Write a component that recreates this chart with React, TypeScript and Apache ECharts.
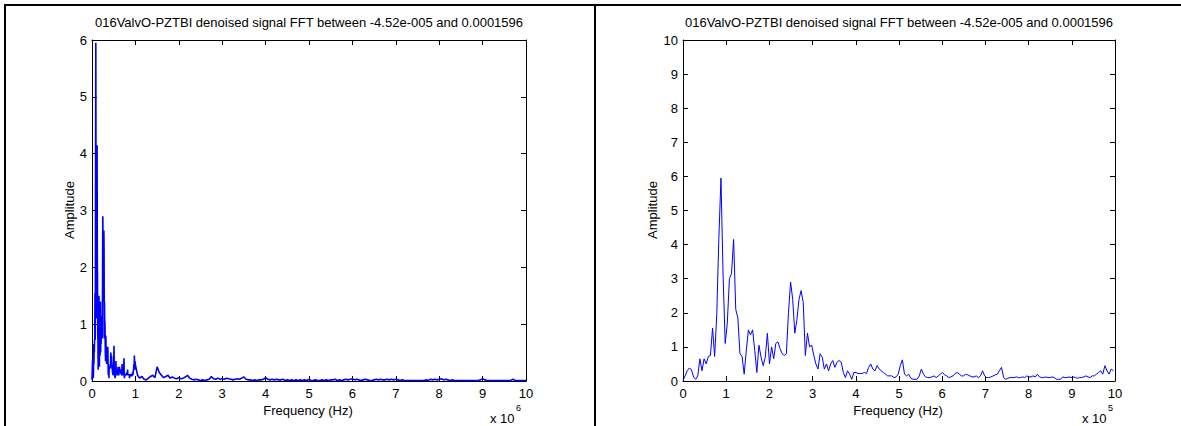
import React, { useEffect, useRef } from "react";
import * as echarts from "echarts";

// FFT bin spacing (20 MHz sampling, 4096 points)
const BIN_HZ = 4882.8125;

// Amplitudes of the first 205 bins (0 .. ~1 MHz), shared by both plots
const lowAmp = [
  0.02, 0.15, 0.3, 0.38, 0.33, 0.12, 0.05, 0.15, 0.65, 0.3,
  0.65, 0.5, 0.72, 0.75, 1.55, 0.72, 1.95, 4.2, 5.95, 3.1,
  1.1, 1.7, 3.0, 3.15, 4.15, 2.1, 1.85, 0.8, 0.72, 0.2,
  0.9, 1.5, 1.35, 1.5, 0.9, 0.25, 1.05, 0.7, 0.45, 0.7,
  1.4, 0.5, 1.0, 0.65, 1.1, 1.15, 0.95, 0.8, 0.75, 0.8,
  2.0, 2.9, 2.4, 1.4, 1.8, 2.4, 2.65, 2.3, 0.75, 1.4,
  1.0, 1.05, 0.75, 0.5, 0.35, 0.8, 0.7, 0.35, 0.5, 0.3,
  0.5, 0.6, 0.4, 0.55, 0.6, 0.55, 0.25, 0.1, 0.3, 0.2,
  0.05, 0.25, 0.25, 0.22, 0.22, 0.22, 0.25, 0.22, 0.4, 0.5,
  0.35, 0.3, 0.45, 0.35, 0.3, 0.25, 0.2, 0.15, 0.15, 0.15,
  0.1, 0.12, 0.2, 0.45, 0.62, 0.2, 0.15, 0.2, 0.08, 0.05,
  0.05, 0.05, 0.15, 0.35, 0.2, 0.12, 0.1, 0.1, 0.12, 0.15,
  0.1, 0.15, 0.2, 0.25, 0.18, 0.15, 0.1, 0.12, 0.15, 0.22,
  0.25, 0.2, 0.15, 0.15, 0.2, 0.18, 0.15, 0.12, 0.12, 0.15,
  0.1, 0.15, 0.3, 0.15, 0.1, 0.1, 0.12, 0.15, 0.18, 0.2,
  0.3, 0.4, 0.1, 0.05, 0.08, 0.1, 0.1, 0.1, 0.12, 0.1,
  0.1, 0.12, 0.1, 0.15, 0.12, 0.12, 0.15, 0.12, 0.2, 0.12,
  0.1, 0.1, 0.12, 0.1, 0.1, 0.12, 0.1, 0.05, 0.05, 0.05,
  0.12, 0.1, 0.1, 0.12, 0.1, 0.12, 0.1, 0.08, 0.1, 0.1,
  0.12, 0.15, 0.12, 0.1, 0.15, 0.15, 0.2, 0.25, 0.3, 0.2,
  0.45, 0.3, 0.2, 0.35, 0.3,
];

// Tail of the spectrum, 1.05 MHz .. 10 MHz, read at 50 kHz steps
const TAIL_START_HZ = 1.05e6;
const TAIL_STEP_HZ = 5e4;
const tailAmp = [
  0.1, 0.05, 0.08, 0.03, 0.02, 0.05, 0.08, 0.1, 0.06, 0.25, 0.15, 0.1, 0.06, 0.08, 0.1, 0.05, 0.07, 0.05, 0.04, 0.06,
  0.04, 0.05, 0.07, 0.1, 0.05, 0.03, 0.02, 0.03, 0.02, 0.01, 0.02, 0.01, 0.02, 0.03, 0.08, 0.04, 0.03, 0.05, 0.03, 0.04,
  0.03, 0.05, 0.04, 0.03, 0.02, 0.03, 0.04, 0.03, 0.05, 0.07, 0.03, 0.02, 0.02, 0.01, 0.02, 0.01, 0.02, 0.02, 0.03, 0.06,
  0.03, 0.02, 0.03, 0.02, 0.03, 0.02, 0.02, 0.03, 0.01, 0.02, 0.01, 0.02, 0.01, 0.02, 0.01, 0.02, 0.01, 0.02, 0.01, 0.03,
  0.01, 0.01, 0.02, 0.01, 0.01, 0.02, 0.01, 0.02, 0.01, 0.02, 0.02, 0.03, 0.01, 0.02, 0.01, 0.02, 0.03, 0.02, 0.03, 0.04,
  0.02, 0.03, 0.02, 0.01, 0.02, 0.03, 0.02, 0.01, 0.01, 0.02, 0.03, 0.02, 0.03, 0.02, 0.02, 0.03, 0.02, 0.03, 0.02, 0.03,
  0.02, 0.01, 0.02, 0.01, 0.01, 0.01, 0.01, 0.01, 0.01, 0.01, 0.01, 0.01, 0.01, 0.02, 0.01, 0.03, 0.02, 0.03, 0.02, 0.03,
  0.04, 0.02, 0.03, 0.02, 0.01, 0.02, 0.01, 0.01, 0.01, 0.01, 0.01, 0.01, 0.01, 0.01, 0.01, 0.01, 0.01, 0.01, 0.02, 0.04,
  0.02, 0.01, 0.01, 0.01, 0.01, 0.01, 0.01, 0.01, 0.01, 0.01, 0.01, 0.01, 0.01, 0.03, 0.01, 0.01, 0.01, 0.01, 0.01, 0.01,
];

const TITLE = "016ValvO-PZTBI denoised signal FFT between -4.52e-005 and 0.0001596";
const X_NAME = "Frequency (Hz)";
const Y_NAME = "Amplitude";
const LEFT_EXP = "6";
const RIGHT_EXP = "5";
const LEFT_YMAX = 6;
const RIGHT_YMAX = 10;
const X_MAX = 10;

const FONT = "'Liberation Sans', Arial, Helvetica, sans-serif";

export default function App() {
  const ref = useRef<HTMLDivElement>(null);

  useEffect(() => {
    if (!ref.current) return;
    const chart = echarts.init(ref.current, null, { renderer: "svg" });

    const lowPoints = lowAmp.map((v, k) => [k * BIN_HZ, v]);
    const tailPoints = tailAmp.map((v, i) => [TAIL_START_HZ + i * TAIL_STEP_HZ, v]);
    const leftData = [...lowPoints, ...tailPoints].map(([f, v]) => [f / 1e6, v]);
    const rightData = lowPoints.map(([f, v]) => [f / 1e5, v]);

    const grids = [
      { left: 92, top: 40, width: 434, height: 341 },
      { left: 683, top: 40, width: 432, height: 341 },
    ];

    const axisLine = { show: true, onZero: false, lineStyle: { color: "#000", width: 1 } };
    const tick = { show: true, inside: true, length: 5, lineStyle: { color: "#000", width: 1 } };
    const label = { color: "#000", fontSize: 13, fontFamily: FONT };

    const xAxes: any[] = [];
    const yAxes: any[] = [];
    [0, 1].forEach((g) => {
      xAxes.push({
        type: "value", gridIndex: g, position: "bottom", min: 0, max: X_MAX, interval: 1,
        axisLine, axisTick: tick, splitLine: { show: false },
        axisLabel: { ...label, margin: 6 },
      });
      xAxes.push({
        type: "value", gridIndex: g, position: "top", min: 0, max: X_MAX, interval: 1,
        axisLine, axisTick: tick, splitLine: { show: false }, axisLabel: { show: false },
      });
      const ymax = g === 0 ? LEFT_YMAX : RIGHT_YMAX;
      yAxes.push({
        type: "value", gridIndex: g, position: "left", min: 0, max: ymax, interval: 1,
        axisLine, axisTick: tick, splitLine: { show: false },
        axisLabel: { ...label, margin: 5 },
      });
      yAxes.push({
        type: "value", gridIndex: g, position: "right", min: 0, max: ymax, interval: 1,
        axisLine, axisTick: tick, splitLine: { show: false }, axisLabel: { show: false },
      });
    });

    const txt = (x: number, y: number, text: string, extra: any = {}) => ({
      type: "text",
      x, y,
      ...extra,
      style: {
        text, fill: "#000", fontSize: 13, fontFamily: FONT,
        textAlign: "center", textVerticalAlign: "middle",
        ...(extra.style || {}),
      },
    });

    const graphic: any[] = [
      { type: "rect", shape: { x: 4, y: 4, width: 1177, height: 2 }, style: { fill: "#000" } },
      { type: "rect", shape: { x: 4, y: 4, width: 2, height: 422 }, style: { fill: "#000" } },
      { type: "rect", shape: { x: 594, y: 4, width: 2, height: 422 }, style: { fill: "#000" } },
      txt(309, 22, TITLE),
      txt(899, 22, TITLE),
      txt(69, 210, Y_NAME, { rotation: Math.PI / 2 }),
      txt(652, 210, Y_NAME, { rotation: Math.PI / 2 }),
      txt(308, 410, X_NAME),
      txt(898, 410, X_NAME),
      txt(490, 418, "x 10", { style: { textAlign: "left" } }),
      txt(516, 408, LEFT_EXP, { style: { textAlign: "left", fontSize: 9 } }),
      txt(1082, 418, "x 10", { style: { textAlign: "left" } }),
      txt(1108, 408, RIGHT_EXP, { style: { textAlign: "left", fontSize: 9 } }),
    ];

    chart.setOption({
      animation: false,
      backgroundColor: "#fff",
      grid: grids,
      xAxis: xAxes,
      yAxis: yAxes,
      graphic,
      series: [
        {
          type: "line", xAxisIndex: 0, yAxisIndex: 0, data: leftData,
          showSymbol: false, symbol: "none",
          lineStyle: { color: "#0000ff", width: 1.6 },
        },
        {
          type: "line", xAxisIndex: 2, yAxisIndex: 2, data: rightData,
          showSymbol: false, symbol: "none",
          lineStyle: { color: "#0000ff", width: 1 },
        },
      ],
    });

    return () => chart.dispose();
  }, []);

  return (
    <div
      ref={ref}
      style={{ position: "absolute", left: 0, top: 0, width: 1181, height: 426, background: "#fff" }}
    />
  );
}
